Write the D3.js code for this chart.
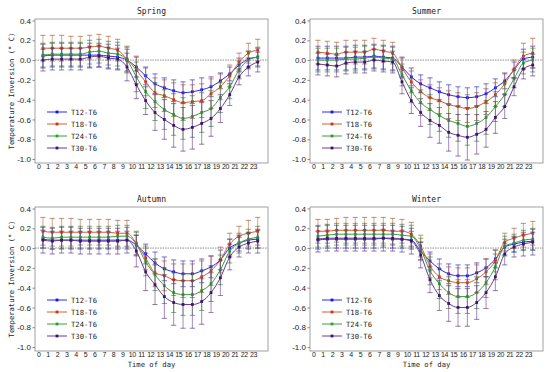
<!doctype html>
<html>
<head>
  <meta charset="utf-8">
  <title>Temperature inversion by season</title>
  <script src="https://cdnjs.cloudflare.com/ajax/libs/d3/7.8.5/d3.min.js"></script>
  <style>
    body { margin: 0; background: #fff; }
    svg text { fill: #222; }
  </style>
</head>
<body>
  <div id="chart"></div>
  <script>
    // ---- data ----
    const hours = d3.range(24);
    const seriesNames = ['T12-T6', 'T18-T6', 'T24-T6', 'T30-T6'];
    const yTicks = [0.4, 0.2, 0.0, -0.2, -0.4, -0.6, -0.8, -1.0];

    // mean values, one row per series (T12, T18, T24, T30)
    const springMean = [
      [0.04,0.05,0.05,0.05,0.05,0.05,0.05,0.04,0.03,0.00,-0.07,-0.16,-0.24,-0.28,-0.31,-0.33,-0.32,-0.30,-0.27,-0.21,-0.14,-0.05,0.01,0.03],
      [0.12,0.12,0.12,0.12,0.12,0.13,0.14,0.12,0.10,0.01,-0.10,-0.22,-0.33,-0.36,-0.40,-0.43,-0.42,-0.41,-0.34,-0.27,-0.16,-0.02,0.07,0.10],
      [0.05,0.06,0.06,0.06,0.06,0.08,0.09,0.07,0.06,0.00,-0.17,-0.32,-0.42,-0.50,-0.55,-0.59,-0.57,-0.53,-0.49,-0.38,-0.27,-0.10,0.00,0.03],
      [0.00,0.01,0.01,0.01,0.01,0.03,0.04,0.02,0.01,-0.07,-0.25,-0.41,-0.53,-0.60,-0.66,-0.70,-0.68,-0.64,-0.59,-0.49,-0.35,-0.17,-0.07,-0.02]
    ];
    const springErr = [
      [0.12,0.12,0.12,0.12,0.12,0.12,0.12,0.12,0.12,0.11,0.10,0.09,0.10,0.10,0.11,0.11,0.12,0.12,0.10,0.08,0.07,0.07,0.08,0.09],
      [0.13,0.13,0.13,0.12,0.12,0.12,0.12,0.12,0.11,0.13,0.14,0.14,0.15,0.16,0.17,0.18,0.17,0.17,0.15,0.13,0.11,0.09,0.10,0.11],
      [0.12,0.12,0.12,0.12,0.12,0.12,0.12,0.12,0.12,0.13,0.15,0.17,0.19,0.20,0.21,0.21,0.21,0.20,0.18,0.15,0.12,0.09,0.09,0.10],
      [0.11,0.11,0.11,0.11,0.11,0.11,0.11,0.11,0.11,0.14,0.14,0.14,0.18,0.20,0.22,0.22,0.22,0.21,0.18,0.14,0.11,0.08,0.09,0.10]
    ];

    const summerMean = [
      [0.02,0.02,0.02,0.02,0.03,0.03,0.04,0.03,0.02,-0.07,-0.17,-0.24,-0.28,-0.32,-0.35,-0.37,-0.38,-0.37,-0.34,-0.28,-0.21,-0.10,0.01,0.03],
      [0.08,0.07,0.06,0.08,0.08,0.08,0.11,0.09,0.07,-0.08,-0.22,-0.32,-0.38,-0.41,-0.45,-0.47,-0.49,-0.47,-0.42,-0.35,-0.24,-0.09,0.04,0.07],
      [0.00,0.00,0.00,0.01,0.01,0.02,0.03,0.02,0.01,-0.15,-0.31,-0.43,-0.50,-0.56,-0.61,-0.64,-0.67,-0.64,-0.58,-0.47,-0.35,-0.19,-0.03,0.00],
      [-0.04,-0.05,-0.06,-0.03,-0.02,-0.02,0.00,-0.01,-0.02,-0.22,-0.41,-0.53,-0.61,-0.66,-0.73,-0.76,-0.78,-0.75,-0.70,-0.58,-0.47,-0.27,-0.09,-0.05]
    ];
    const summerErr = [
      [0.12,0.12,0.12,0.12,0.12,0.12,0.12,0.12,0.12,0.10,0.09,0.09,0.10,0.10,0.10,0.10,0.10,0.10,0.10,0.09,0.08,0.08,0.10,0.11],
      [0.12,0.12,0.12,0.12,0.12,0.12,0.11,0.11,0.11,0.10,0.11,0.12,0.13,0.13,0.14,0.14,0.14,0.14,0.13,0.12,0.10,0.09,0.13,0.15],
      [0.12,0.12,0.12,0.12,0.12,0.12,0.12,0.12,0.12,0.11,0.12,0.13,0.15,0.16,0.17,0.18,0.19,0.18,0.17,0.15,0.12,0.09,0.11,0.12],
      [0.11,0.11,0.11,0.11,0.11,0.11,0.11,0.11,0.11,0.12,0.13,0.14,0.17,0.18,0.19,0.21,0.23,0.20,0.18,0.16,0.12,0.09,0.10,0.11]
    ];

    const autumnMean = [
      [0.09,0.08,0.08,0.08,0.08,0.08,0.08,0.08,0.08,0.08,0.03,-0.06,-0.15,-0.21,-0.24,-0.26,-0.26,-0.23,-0.19,-0.12,0.00,0.05,0.08,0.09],
      [0.17,0.16,0.16,0.16,0.16,0.16,0.16,0.16,0.15,0.15,0.05,-0.10,-0.25,-0.28,-0.32,-0.33,-0.33,-0.29,-0.23,-0.12,0.04,0.12,0.15,0.17],
      [0.11,0.10,0.11,0.11,0.11,0.11,0.11,0.11,0.12,0.12,0.04,-0.14,-0.27,-0.38,-0.45,-0.47,-0.47,-0.43,-0.36,-0.22,-0.03,0.05,0.09,0.11],
      [0.08,0.07,0.08,0.08,0.07,0.07,0.07,0.07,0.07,0.08,-0.03,-0.24,-0.37,-0.49,-0.55,-0.57,-0.57,-0.54,-0.45,-0.30,-0.09,0.01,0.05,0.07]
    ];
    const autumnErr = [
      [0.09,0.09,0.09,0.09,0.09,0.09,0.09,0.09,0.09,0.09,0.10,0.10,0.11,0.12,0.12,0.13,0.13,0.12,0.11,0.10,0.09,0.08,0.08,0.09],
      [0.14,0.14,0.14,0.14,0.13,0.13,0.13,0.13,0.13,0.13,0.12,0.12,0.14,0.15,0.16,0.17,0.17,0.16,0.15,0.13,0.11,0.10,0.13,0.14],
      [0.11,0.11,0.11,0.11,0.11,0.11,0.11,0.11,0.11,0.11,0.12,0.14,0.16,0.18,0.20,0.21,0.21,0.20,0.18,0.15,0.12,0.10,0.10,0.11],
      [0.13,0.13,0.13,0.13,0.13,0.13,0.13,0.13,0.13,0.13,0.16,0.19,0.20,0.22,0.23,0.24,0.24,0.23,0.20,0.18,0.13,0.10,0.10,0.12]
    ];

    const winterMean = [
      [0.08,0.09,0.09,0.09,0.09,0.09,0.09,0.10,0.09,0.09,0.08,-0.03,-0.13,-0.21,-0.26,-0.28,-0.28,-0.25,-0.20,-0.11,0.01,0.04,0.06,0.07],
      [0.17,0.17,0.18,0.18,0.18,0.18,0.18,0.18,0.17,0.17,0.14,0.02,-0.18,-0.29,-0.33,-0.35,-0.35,-0.31,-0.24,-0.13,0.06,0.10,0.13,0.15],
      [0.12,0.13,0.14,0.14,0.14,0.14,0.14,0.14,0.14,0.13,0.12,-0.01,-0.23,-0.36,-0.45,-0.49,-0.49,-0.45,-0.35,-0.19,0.02,0.05,0.08,0.09],
      [0.09,0.10,0.10,0.10,0.10,0.10,0.10,0.10,0.10,0.09,0.07,-0.07,-0.32,-0.48,-0.56,-0.60,-0.60,-0.55,-0.45,-0.29,-0.06,0.01,0.04,0.06]
    ];
    const winterErr = [
      [0.09,0.09,0.09,0.09,0.09,0.09,0.09,0.09,0.09,0.09,0.09,0.09,0.09,0.10,0.10,0.11,0.11,0.10,0.09,0.09,0.08,0.08,0.08,0.09],
      [0.12,0.12,0.12,0.13,0.13,0.13,0.13,0.13,0.13,0.12,0.12,0.11,0.12,0.13,0.14,0.15,0.15,0.14,0.13,0.11,0.09,0.10,0.12,0.12],
      [0.11,0.11,0.11,0.11,0.11,0.11,0.11,0.11,0.11,0.11,0.11,0.11,0.14,0.15,0.16,0.17,0.17,0.16,0.15,0.13,0.10,0.09,0.10,0.11],
      [0.13,0.13,0.13,0.13,0.13,0.13,0.13,0.13,0.13,0.13,0.13,0.13,0.13,0.15,0.18,0.19,0.19,0.17,0.16,0.14,0.11,0.10,0.12,0.13]
    ];

    // ---- styling ----
    const lineColors   = ['#2b2bf0', '#c8642e', '#3f9a3f', '#6a3a95'];
    const markerColors = ['#1010ff', '#e02a1a', '#26a626', '#3d1566'];
    const monoFont = '"DejaVu Sans Mono", monospace';
    const sansFont = '"Liberation Sans", Arial, sans-serif';

    const svg = d3.select('#chart').append('svg')
      .attr('width', 550)
      .attr('height', 372);

    const pw = 233, ph = 144;
    const panels = [
      { title: 'Spring', mean: springMean, err: springErr, x0: 35,  y0: 19,  yLabel: true,  xLabel: false },
      { title: 'Summer', mean: summerMean, err: summerErr, x0: 310, y0: 19,  yLabel: false, xLabel: false },
      { title: 'Autumn', mean: autumnMean, err: autumnErr, x0: 35,  y0: 207, yLabel: true,  xLabel: true },
      { title: 'Winter', mean: winterMean, err: winterErr, x0: 310, y0: 207, yLabel: false, xLabel: true }
    ];

    panels.forEach(p => {
      const x = d3.scaleLinear().domain([-0.35, 24.6]).range([p.x0, p.x0 + pw]);
      const y = d3.scaleLinear().domain([-1.04, 0.415]).range([p.y0 + ph, p.y0]);
      const g = svg.append('g');

      // y axis
      const ya = g.append('g')
        .attr('transform', `translate(${p.x0},0)`)
        .call(d3.axisLeft(y).tickValues(yTicks).tickFormat(d => d.toFixed(1)).tickSize(2.5).tickPadding(1.5));
      ya.select('.domain').remove();
      ya.selectAll('line').attr('stroke', '#555').attr('stroke-width', 0.7);
      ya.selectAll('text').style('font-family', sansFont).style('font-size', '8px').attr('fill', '#333');

      // x axis
      const xa = g.append('g')
        .attr('transform', `translate(0,${p.y0 + ph})`)
        .call(d3.axisBottom(x).tickValues(hours).tickSize(0).tickPadding(1.5));
      xa.select('.domain').remove();
      xa.selectAll('text').style('font-family', sansFont).style('font-size', '7px')
        .style('letter-spacing', '-0.4px').attr('fill', '#333');

      // zero reference
      g.append('line')
        .attr('x1', p.x0).attr('x2', p.x0 + pw)
        .attr('y1', y(0)).attr('y2', y(0))
        .attr('stroke', '#444').attr('stroke-width', 0.6)
        .attr('stroke-dasharray', '1.5,1');

      // series
      p.mean.forEach((vals, si) => {
        const pts = vals.map((v, h) => ({ h: h, v: v, e: p.err[si][h] }));
        const sg = g.append('g');

        sg.selectAll('line.stem').data(pts).join('line')
          .attr('class', 'stem')
          .attr('x1', d => x(d.h + 0.5)).attr('x2', d => x(d.h + 0.5))
          .attr('y1', d => y(d.v - d.e)).attr('y2', d => y(d.v + d.e))
          .attr('stroke', lineColors[si]).attr('stroke-width', 0.8).attr('opacity', 0.75);

        [-1, 1].forEach(sgn => {
          sg.selectAll('line.cap' + (sgn + 1)).data(pts).join('line')
            .attr('class', 'cap' + (sgn + 1))
            .attr('x1', d => x(d.h + 0.5) - 2.6).attr('x2', d => x(d.h + 0.5) + 2.6)
            .attr('y1', d => y(d.v + sgn * d.e)).attr('y2', d => y(d.v + sgn * d.e))
            .attr('stroke', d3.color(lineColors[si]).darker(0.6)).attr('stroke-width', 0.8).attr('opacity', 0.8);
        });

        sg.append('path')
          .datum(pts)
          .attr('fill', 'none')
          .attr('stroke', lineColors[si])
          .attr('stroke-width', 1)
          .attr('d', d3.line().x(d => x(d.h + 0.5)).y(d => y(d.v)).curve(d3.curveMonotoneX));

        sg.selectAll('rect.mk').data(pts).join('rect')
          .attr('class', 'mk')
          .attr('x', d => x(d.h + 0.5) - 1.4).attr('y', d => y(d.v) - 1.4)
          .attr('width', 2.8).attr('height', 2.8)
          .attr('fill', markerColors[si]);
      });

      // frame
      g.append('rect')
        .attr('x', p.x0).attr('y', p.y0)
        .attr('width', pw).attr('height', ph)
        .attr('fill', 'none').attr('stroke', '#8a8a8a').attr('stroke-width', 0.8);

      // title
      g.append('text')
        .attr('x', p.x0 + pw / 2).attr('y', p.y0 - 5)
        .attr('text-anchor', 'middle')
        .style('font-family', monoFont).style('font-size', '8px')
        .text(p.title);

      if (p.yLabel) {
        g.append('text')
          .attr('transform', `translate(14,${p.y0 + ph / 2}) rotate(-90)`)
          .attr('text-anchor', 'middle')
          .style('font-family', monoFont).style('font-size', '7.2px')
          .text('Temperature Inversion (° C)');
      }
      if (p.xLabel) {
        g.append('text')
          .attr('x', p.x0 + pw / 2).attr('y', 367)
          .attr('text-anchor', 'middle')
          .style('font-family', monoFont).style('font-size', '7.2px')
          .text('Time of day');
      }

      // legend
      const leg = g.selectAll('g.legend').data(seriesNames).join('g')
        .attr('class', 'legend')
        .attr('transform', (d, i) => `translate(${p.x0 + 12},${p.y0 + 93 + i * 12})`);
      leg.append('line')
        .attr('x1', 0).attr('x2', 20)
        .attr('stroke', (d, i) => lineColors[i]).attr('stroke-width', 1);
      leg.append('rect')
        .attr('x', 8.6).attr('y', -1.4).attr('width', 2.8).attr('height', 2.8)
        .attr('fill', (d, i) => markerColors[i]);
      leg.append('text')
        .attr('x', 24).attr('dy', '0.35em')
        .style('font-family', monoFont).style('font-size', '7.2px')
        .text(d => d);
    });
  </script>
</body>
</html>
